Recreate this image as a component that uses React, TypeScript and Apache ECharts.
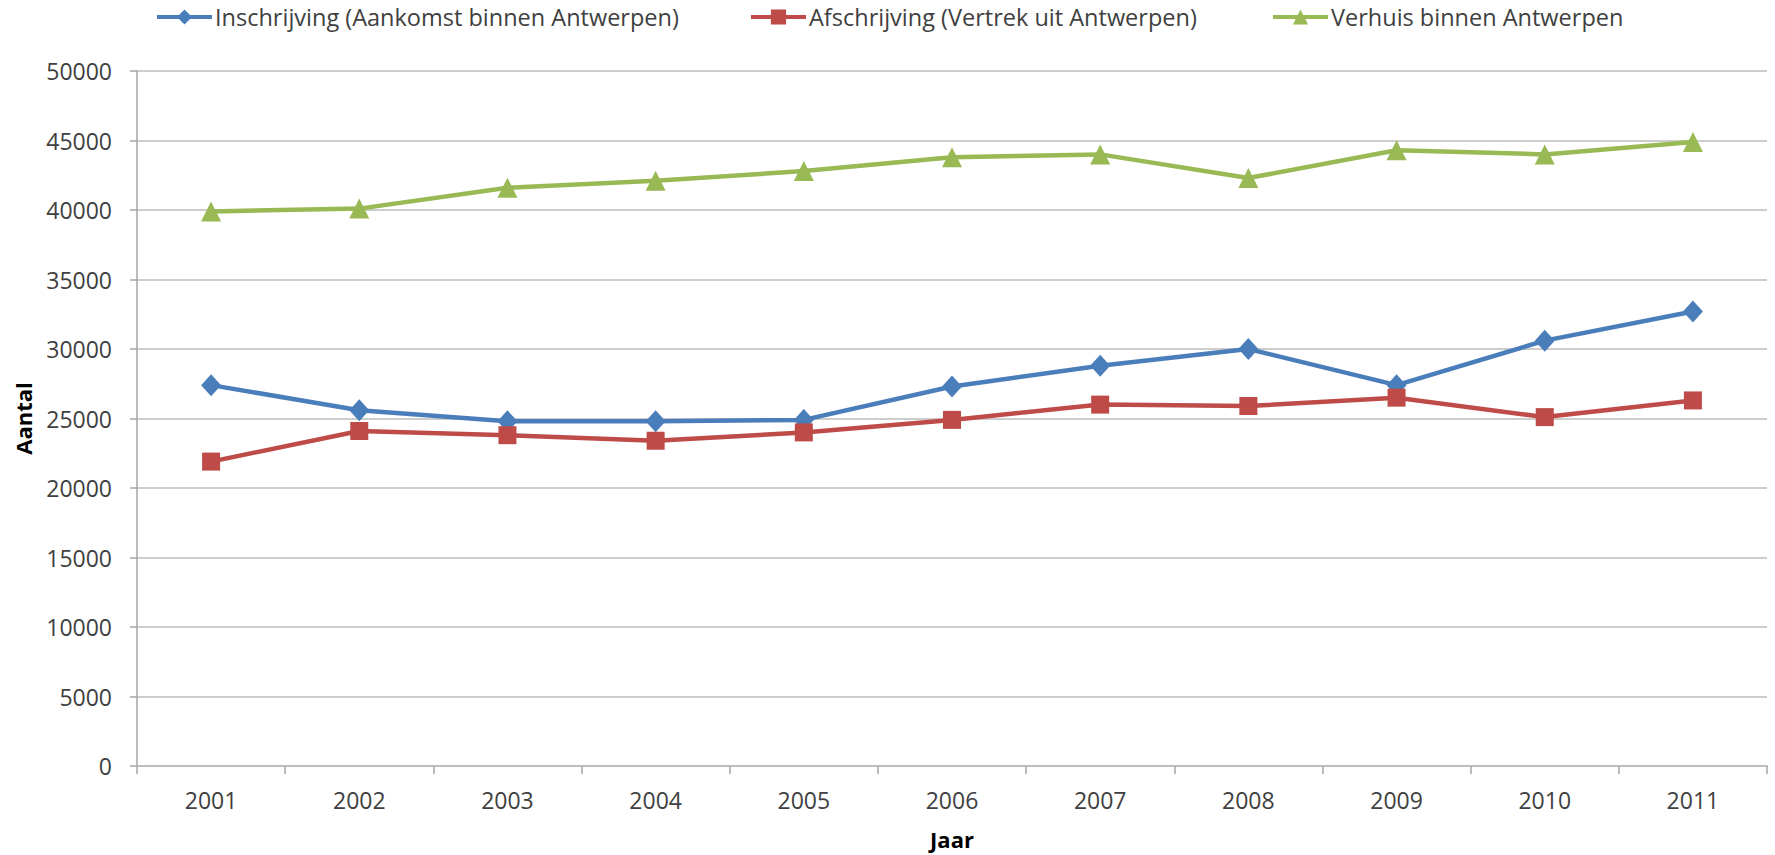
import React, { useEffect, useRef } from "react";
import * as echarts from "echarts";

const years = ["2001", "2002", "2003", "2004", "2005", "2006", "2007", "2008", "2009", "2010", "2011"];
const inschrijving = [27400, 25600, 24800, 24800, 24900, 27300, 28800, 30000, 27400, 30600, 32700];
const afschrijving = [21900, 24100, 23800, 23400, 24000, 24900, 26000, 25900, 26500, 25100, 26300];
const verhuis = [39900, 40100, 41600, 42100, 42800, 43800, 44000, 42300, 44300, 44000, 44900];

const seriesNames = [
  "Inschrijving (Aankomst binnen Antwerpen)",
  "Afschrijving (Vertrek uit Antwerpen)",
  "Verhuis binnen Antwerpen",
];
const colors = ["#4A7EBB", "#BE4B48", "#98B954"];

const FONT = "'Open Sans', 'Liberation Sans', sans-serif";

export default function App() {
  const ref = useRef<HTMLDivElement>(null);
  useEffect(() => {
    if (!ref.current) return;
    const chart = echarts.init(ref.current, undefined, { renderer: "svg" });
    const legendBase = {
      top: 5,
      itemWidth: 55,
      itemHeight: 19,
      itemGap: 4,
      lineStyle: { width: 4 },
      textStyle: { fontFamily: FONT, fontSize: 23.5, color: "#404040", padding: [0, 0, 0, -2] },
      padding: 0,
    };
    chart.setOption({
      animation: false,
      color: colors,
      legend: [
        { ...legendBase, left: 155, data: [seriesNames[0]] },
        { ...legendBase, left: 749, data: [seriesNames[1]] },
        { ...legendBase, left: 1271, data: [seriesNames[2]] },
      ],
      grid: { left: 137, right: 8, top: 71, bottom: 88, containLabel: false },
      xAxis: {
        type: "category",
        data: years,
        boundaryGap: true,
        name: "Jaar",
        nameLocation: "middle",
        nameGap: 62,
        nameTextStyle: { fontFamily: FONT, fontSize: 22, fontWeight: "bold", color: "#000" },
        axisLine: { lineStyle: { color: "#BDBDBD", width: 2 } },
        axisTick: { show: true, length: 8, lineStyle: { color: "#A6A6A6", width: 1.5 } },
        axisLabel: { fontFamily: FONT, fontSize: 23, color: "#404040", margin: 22 },
      },
      yAxis: {
        type: "value",
        min: 0,
        max: 50000,
        interval: 5000,
        name: "Aantal",
        nameLocation: "middle",
        nameGap: 103,
        nameTextStyle: { fontFamily: FONT, fontSize: 22, fontWeight: "bold", color: "#000" },
        axisLine: { show: true, lineStyle: { color: "#A6A6A6", width: 1.5 } },
        axisTick: { show: true, length: 7, lineStyle: { color: "#A6A6A6", width: 1.5 } },
        axisLabel: {
          fontFamily: FONT,
          fontSize: 23,
          color: "#404040",
          margin: 25,
          formatter: (v: number) => String(v),
        },
        splitLine: { show: true, lineStyle: { color: "#BDBDBD", width: 1.5 } },
      },
      series: [
        {
          name: seriesNames[0],
          type: "line",
          data: inschrijving,
          symbol: "diamond",
          symbolSize: [20, 22],
          lineStyle: { width: 4.5, color: colors[0] },
          itemStyle: { color: colors[0] },
        },
        {
          name: seriesNames[1],
          type: "line",
          data: afschrijving,
          symbol: "rect",
          symbolSize: 18,
          lineStyle: { width: 4.5, color: colors[1] },
          itemStyle: { color: colors[1] },
        },
        {
          name: seriesNames[2],
          type: "line",
          data: verhuis,
          symbol: "triangle",
          symbolSize: [20, 20],
          lineStyle: { width: 4.5, color: colors[2] },
          itemStyle: { color: colors[2] },
        },
      ],
    });
    return () => chart.dispose();
  }, []);
  return (
    <div
      ref={ref}
      style={{ position: "absolute", left: 0, top: 0, width: 1775, height: 855, background: "#fff" }}
    />
  );
}
